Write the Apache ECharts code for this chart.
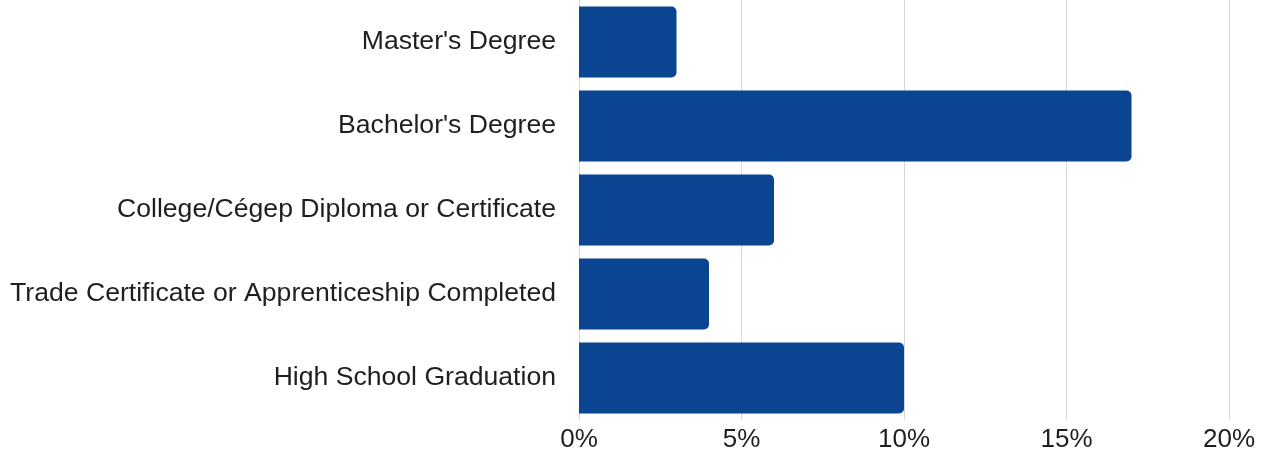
<!DOCTYPE html>
<html>
<head>
<meta charset="utf-8">
<script src="https://cdn.jsdelivr.net/npm/echarts@6/dist/echarts.min.js"></script>
<style>
  html, body { margin: 0; padding: 0; background: #ffffff; }
  #chart { width: 1268px; height: 459px; }
</style>
</head>
<body>
<div id="chart"></div>
<script>
// Highest level of education completed, share of respondents (%)
const categories = [
  "Master's Degree",
  "Bachelor's Degree",
  "College/Cégep Diploma or Certificate",
  "Trade Certificate or Apprenticeship Completed",
  "High School Graduation"
];
const shares = [3, 17, 6, 4, 10];
const tickValues = [0, 5, 10, 15, 20];

const FONT = '"Liberation Sans", Arial, Helvetica, sans-serif';

const chart = echarts.init(document.getElementById('chart'), null, { renderer: 'canvas' });

chart.setOption({
  animation: false,
  backgroundColor: '#ffffff',
  textStyle: { fontFamily: FONT },
  grid: { left: 579, right: 39, top: 0, bottom: 39, containLabel: false },
  xAxis: {
    type: 'value',
    min: tickValues[0],
    max: tickValues[tickValues.length - 1],
    interval: 5,
    axisLine: { show: false },
    axisTick: { show: false },
    splitLine: { show: true, lineStyle: { color: '#d9d9d9', width: 1 } },
    axisLabel: {
      formatter: v => v + '%',
      color: '#1f1f1f',
      fontFamily: FONT,
      fontSize: 26,
      margin: 7
    }
  },
  yAxis: {
    type: 'category',
    data: categories,
    inverse: true,
    axisLine: { show: false },
    axisTick: { show: false },
    axisLabel: {
      color: '#1f1f1f',
      fontFamily: FONT,
      fontSize: 26.6,
      margin: 23
    }
  },
  series: [{
    type: 'bar',
    data: shares,
    barWidth: 71,
    itemStyle: { color: '#0b4592', borderRadius: [0, 5, 5, 0] }
  }]
});
</script>
</body>
</html>
